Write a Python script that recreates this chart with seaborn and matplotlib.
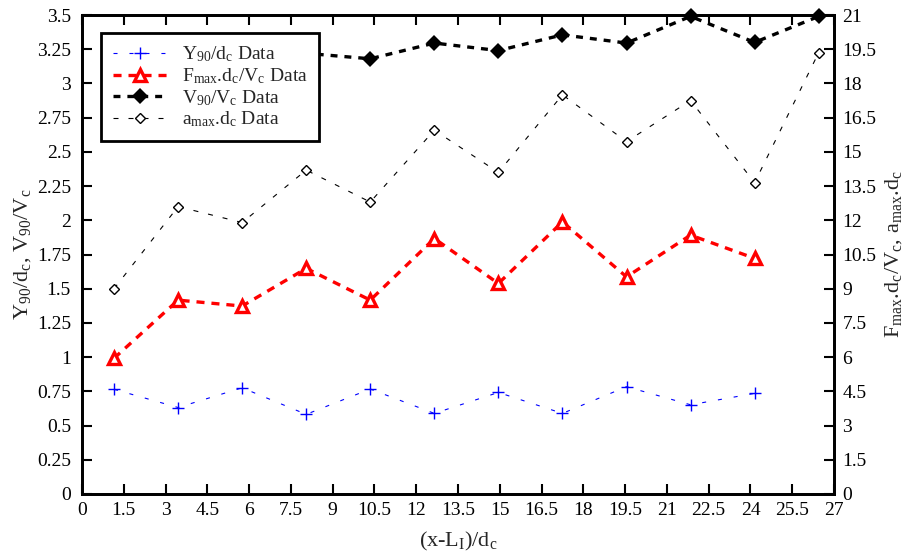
import matplotlib
matplotlib.use("Agg")
import matplotlib.pyplot as plt
import seaborn as sns
import numpy as np
import pandas as pd
from matplotlib.ticker import FixedLocator, FuncFormatter

# ---- data ----
x_pos = [1.15, 3.45, 5.75, 8.05, 10.35, 12.65, 14.95, 17.25, 19.55, 21.85, 24.15, 26.45]
y90 = [0.765, 0.632, 0.776, 0.582, 0.767, 0.589, 0.742, 0.589, 0.784, 0.652, 0.735]
fmax = [5.95, 8.5, 8.24, 9.89, 8.5, 11.2, 9.23, 11.93, 9.52, 11.35, 10.33]
v90 = [3.05, 3.2, 3.12, 3.22, 3.18, 3.295, 3.24, 3.355, 3.295, 3.49, 3.30, 3.49]
amax = [9.0, 12.6, 11.9, 14.2, 12.8, 15.95, 14.1, 17.5, 15.45, 17.25, 13.65, 19.35]

x_ticks = [0, 1.5, 3, 4.5, 6, 7.5, 9, 10.5, 12, 13.5, 15, 16.5, 18, 19.5, 21, 22.5, 24, 25.5, 27]
left_ticks = [0, 0.25, 0.5, 0.75, 1, 1.25, 1.5, 1.75, 2, 2.25, 2.5, 2.75, 3, 3.25, 3.5]
right_ticks = [0, 1.5, 3, 4.5, 6, 7.5, 9, 10.5, 12, 13.5, 15, 16.5, 18, 19.5, 21]

labels = [r"Y$_{\rm 90}$/d$_{\rm c}$ Data",
          r"F$_{\rm max}$.d$_{\rm c}$/V$_{\rm c}$ Data",
          r"V$_{\rm 90}$/V$_{\rm c}$ Data",
          r"a$_{\rm max}$.d$_{\rm c}$ Data"]

sns.set_style("white")
plt.rcParams['font.family'] = ['Liberation Serif', 'DejaVu Serif']
plt.rcParams['mathtext.fontset'] = 'custom'
plt.rcParams['mathtext.rm'] = 'Liberation Serif'
plt.rcParams['mathtext.it'] = 'Liberation Serif:italic'
plt.rcParams['lines.scale_dashes'] = False

fig = plt.figure(figsize=(9.13, 5.55), dpi=100)
ax = fig.add_axes([82/913, 1-494/555, (834-82)/913, (494-15)/555])
ax2 = ax.twinx()

n1 = len(y90)
sns.lineplot(x=x_pos[:n1], y=y90, ax=ax, color='#0000ff', lw=0.8,
             linestyle=(0, (2.9, 8.6)), marker='+', markersize=9, mew=1.0,
             mec='#0000ff', label=labels[0], legend=False, clip_on=False)
sns.lineplot(x=x_pos, y=v90, ax=ax, color='black', lw=2.4,
             linestyle=(0, (5.0, 5.0)), marker='D', markersize=8, mew=0,
             mfc='black', label=labels[2], legend=False, clip_on=False)
sns.lineplot(x=x_pos[:len(fmax)], y=fmax, ax=ax2, color='#ff0000', lw=2.4,
             linestyle=(0, (5.8, 5.0)), marker='^', markersize=8.5, mew=2.4,
             mfc='white', mec='#ff0000', label=labels[1], legend=False, clip_on=False)
sns.lineplot(x=x_pos, y=amax, ax=ax2, color='black', lw=0.8,
             linestyle=(0, (3.6, 7.2)), marker='D', markersize=5.5, mew=1.0,
             mfc='white', mec='black', label=labels[3], legend=False, clip_on=False)

ax.set_xlim(0, 27)
ax.set_ylim(0, 3.5)
ax2.set_ylim(0, 21)

fmt = FuncFormatter(lambda v, p: f"{v:g}")
ax.xaxis.set_major_locator(FixedLocator(x_ticks))
ax.xaxis.set_major_formatter(fmt)
ax.yaxis.set_major_locator(FixedLocator(left_ticks))
ax.yaxis.set_major_formatter(fmt)
ax2.yaxis.set_major_locator(FixedLocator(right_ticks))
ax2.yaxis.set_major_formatter(fmt)

TS = 14
ax.tick_params(axis='x', direction='in', top=True, bottom=True, length=7, width=1.5,
               labelsize=TS, pad=6, colors='black')
ax.tick_params(axis='y', direction='in', left=True, right=False, length=7, width=1.5,
               labelsize=TS, pad=8, colors='black')
ax2.tick_params(axis='y', direction='in', right=True, length=7, width=1.5,
                labelsize=TS, pad=6, colors='black')

for a in (ax, ax2):
    for s in a.spines.values():
        s.set_visible(True)
        s.set_linewidth(2.0)
        s.set_color('black')

LS = 16
ax.set_xlabel(r"(x-L$_{\rm I}$)/d$_{\rm c}$", fontsize=LS, labelpad=8)
ax.set_ylabel(r"Y$_{\rm 90}$/d$_{\rm c}$, V$_{\rm 90}$/V$_{\rm c}$", fontsize=LS, labelpad=3)
ax2.set_ylabel(r"F$_{\rm max}$.d$_{\rm c}$/V$_{\rm c}$, a$_{\rm max}$.d$_{\rm c}$",
               fontsize=LS, labelpad=5)

h1, l1 = ax.get_legend_handles_labels()
h2, l2 = ax2.get_legend_handles_labels()
hmap = dict(zip(l1 + l2, h1 + h2))
handles = [hmap[l] for l in labels]
leg = ax2.legend(handles, labels, loc='upper left', bbox_to_anchor=(19/752, 1-18/479),
                 borderaxespad=0, fontsize=TS, handlelength=2.8, handletextpad=0.75,
                 labelspacing=0.1, frameon=True, fancybox=False, framealpha=1,
                 edgecolor='black', borderpad=0.6)
leg.get_frame().set_linewidth(2.0)
leg.set_zorder(10)

fig.savefig("out.png", dpi=100)
